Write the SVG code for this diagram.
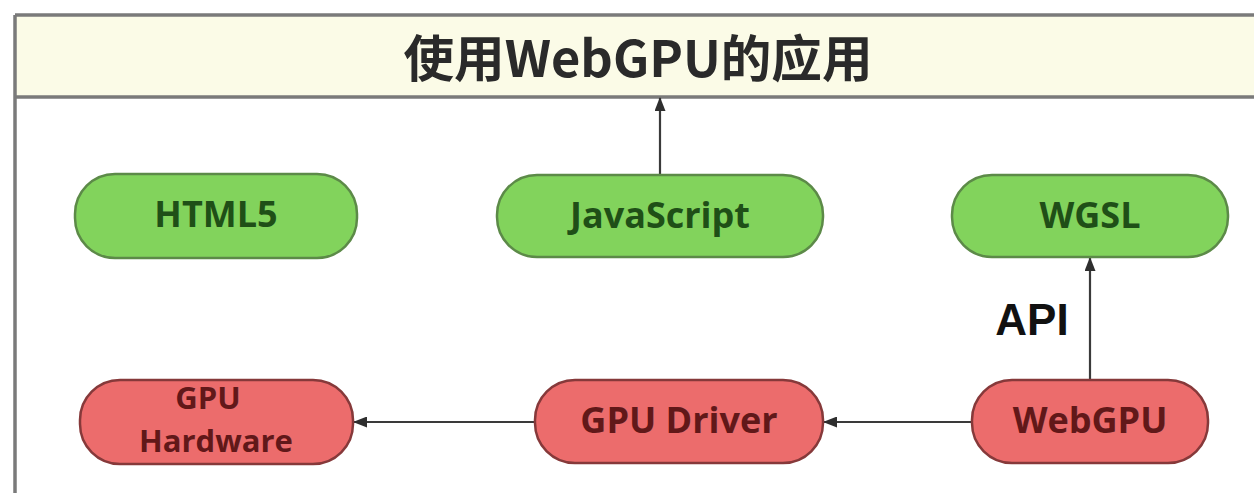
<svg xmlns="http://www.w3.org/2000/svg" width="1254" height="493" viewBox="0 0 1254 493">
<style>
  .frame { fill: none; stroke: #7a7a7a; stroke-width: 3.5; }
  .green rect { fill: #82d35c; stroke: #5c8a48; stroke-width: 2.5; }
  .green text { fill: #1f4f17; }
  .red rect { fill: #ec6c6c; stroke: #86393a; stroke-width: 2.5; }
  .red text { fill: #611819; }
  .lbl { font-family: "Open Sans", "Liberation Sans", sans-serif; font-weight: bold; font-size: 36px; text-anchor: middle; }
  .lbl2 { font-size: 31px; }
  .conn line { stroke: #3a3a3a; stroke-width: 2.2; }
</style>
<defs>
  <marker id="arr" viewBox="0 0 14 11" refX="13" refY="5.5" markerWidth="14" markerHeight="11" markerUnits="userSpaceOnUse" orient="auto">
    <path d="M0,0 L14,5.5 L0,11 Z" fill="#2e2e2e"/>
  </marker>
</defs>
<rect x="0" y="0" width="1254" height="493" fill="#ffffff"/>
<g id="app">
  <rect x="15" y="15" width="1250" height="82" fill="#fbfbe7"/>
  <line class="frame" x1="15" y1="15" x2="1254" y2="15"/>
  <line class="frame" x1="15" y1="97" x2="1254" y2="97"/>
  <line class="frame" x1="15" y1="15" x2="15" y2="493"/>
  <text x="638" y="77" textLength="469" lengthAdjust="spacingAndGlyphs" font-family="'Noto Sans CJK SC', 'Noto Sans', sans-serif" font-weight="bold" font-size="50" text-anchor="middle" fill="#2a2a2a">使用WebGPU的应用</text>
</g>
<g id="connectors" class="conn">
  <line x1="660" y1="175" x2="660" y2="98" marker-end="url(#arr)"/>
  <line x1="1090" y1="380" x2="1090" y2="258" marker-end="url(#arr)"/>
  <line x1="972" y1="422" x2="824" y2="422" marker-end="url(#arr)"/>
  <line x1="535" y1="422" x2="354" y2="422" marker-end="url(#arr)"/>
  <text x="1032" y="335" font-family="'Liberation Sans', Arial, sans-serif" font-weight="bold" font-size="44" text-anchor="middle" fill="#111">API</text>
</g>
<g id="html5" class="green">
  <rect x="75" y="174" width="282" height="84" rx="40"/>
  <text class="lbl" x="216" y="227">HTML5</text>
</g>
<g id="javascript" class="green">
  <rect x="497" y="175" width="326" height="82" rx="40"/>
  <text class="lbl" x="660" y="228">JavaScript</text>
</g>
<g id="wgsl" class="green">
  <rect x="952" y="175" width="276" height="82" rx="40"/>
  <text class="lbl" x="1090" y="228">WGSL</text>
</g>
<g id="gpu-hardware" class="red">
  <rect x="80" y="380" width="273" height="84" rx="40"/>
  <text class="lbl lbl2" x="208" y="409">GPU</text>
  <text class="lbl lbl2" x="216" y="452">Hardware</text>
</g>
<g id="gpu-driver" class="red">
  <rect x="535" y="380" width="288" height="83" rx="40"/>
  <text class="lbl" x="679" y="433">GPU Driver</text>
</g>
<g id="webgpu" class="red">
  <rect x="972" y="380" width="236" height="83" rx="40"/>
  <text class="lbl" x="1090" y="433">WebGPU</text>
</g>
</svg>
